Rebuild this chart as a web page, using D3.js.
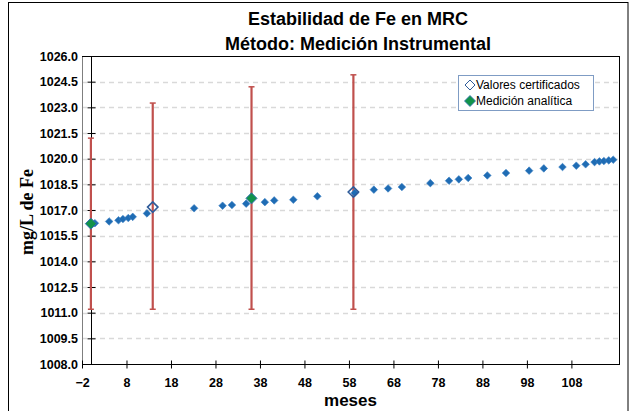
<!DOCTYPE html>
<html>
<head>
<meta charset="utf-8">
<script src="https://cdn.jsdelivr.net/npm/d3@7"></script>
<style>
  body { margin: 0; background: #fff; }
  svg { display: block; }
</style>
</head>
<body>
<svg id="chart"></svg>
<script>
// months (x) and mg/L (y)
const serieMeses = [0.9, 4.1, 6.2, 7.2, 8.4, 9.4, 12.6, 23.2, 29.6, 31.7, 34.9, 39.1, 41.2, 45.5, 50.9, 59.3,
  63.6, 66.8, 69.9, 76.3, 80.5, 82.7, 84.8, 89.1, 93.3, 98.5, 101.8, 106, 109.1, 111.2, 113.2, 114.3, 115.3, 116.4, 117.4];
const serieValores = [1016.23, 1016.33, 1016.4, 1016.47, 1016.53, 1016.6, 1016.8, 1017.1, 1017.25, 1017.29, 1017.37,
  1017.46, 1017.56, 1017.6, 1017.8, 1018.0, 1018.19, 1018.26, 1018.34, 1018.57, 1018.71, 1018.79, 1018.87, 1019.02,
  1019.16, 1019.3, 1019.43, 1019.51, 1019.59, 1019.67, 1019.8, 1019.84, 1019.86, 1019.9, 1019.94];

const certMeses = [13.9, 59.0];
const certValores = [1017.17, 1018.05];

const medMeses = [0, 36.1];
const medValores = [1016.2, 1017.68];

const barraMeses = [0, 13.9, 36.1, 59.0];
const barraInf = [1011.2, 1011.2, 1011.2, 1011.2];
const barraSup = [1021.2, 1023.25, 1024.2, 1024.9];

const yTicks = [1008, 1009.5, 1011, 1012.5, 1014, 1015.5, 1017, 1018.5, 1020, 1021.5, 1023, 1024.5, 1026];
const xTicks = [-2, 8, 18, 28, 38, 48, 58, 68, 78, 88, 98, 108];

const titulo = ["Estabilidad de Fe en MRC", "Método: Medición Instrumental"];
const leyenda = ["Valores certificados", "Medición analítica"];

const W = 631, H = 411;
const plot = { left: 82, top: 56, right: 619, bottom: 364 };

const svg = d3.select('#chart').attr('width', W).attr('height', H);

// outer chart border
svg.append('rect')
  .attr('x', 8.5).attr('y', 2.5).attr('width', 619.5).attr('height', 420)
  .attr('fill', 'none').attr('stroke', '#000').attr('stroke-width', 1);

const x = d3.scaleLinear().domain([-2, 118.7]).range([plot.left, plot.right]);
const y = d3.scaleLinear().domain([1008, 1026]).range([plot.bottom, plot.top]);

// dashed gridlines
svg.append('g')
  .selectAll('line')
  .data(yTicks.slice(1, -1))
  .join('line')
  .attr('x1', plot.left).attr('x2', plot.right)
  .attr('y1', d => Math.round(y(d)) + 0.5).attr('y2', d => Math.round(y(d)) + 0.5)
  .attr('stroke', '#d9d9d9').attr('stroke-width', 1.3).attr('stroke-dasharray', '5,4');

// plot area border
svg.append('line')
  .attr('x1', plot.left + 0.5).attr('x2', plot.left + 0.5).attr('y1', plot.top).attr('y2', plot.bottom)
  .attr('stroke', '#7f7f7f');
svg.append('line')
  .attr('x1', plot.left).attr('x2', plot.right).attr('y1', plot.top + 0.5).attr('y2', plot.top + 0.5)
  .attr('stroke', '#000');
svg.append('line')
  .attr('x1', plot.right + 0.5).attr('x2', plot.right + 0.5).attr('y1', plot.top).attr('y2', plot.bottom)
  .attr('stroke', '#000');

// y labels on the left edge
const yLabels = svg.append('g')
  .attr('transform', `translate(${plot.left},0)`)
  .call(d3.axisLeft(y).tickValues(yTicks).tickFormat(d3.format('.1f')).tickSize(0).tickPadding(4));
yLabels.select('.domain').remove();
yLabels.selectAll('text')
  .attr('font-family', 'Liberation Sans, Arial, sans-serif')
  .attr('font-size', 12.5).attr('font-weight', 'bold').attr('fill', '#000');

// vertical axis line crossing at x = 0
const yAxisG = svg.append('g')
  .attr('transform', `translate(${Math.round(x(0)) + 0.5},0)`)
  .call(d3.axisLeft(y).tickValues(yTicks).tickFormat(''));
yAxisG.select('.domain').attr('d', `M0,${plot.top}V${plot.bottom}`).attr('stroke', '#000');
yAxisG.selectAll('.tick line').attr('x1', -4).attr('x2', 4).attr('stroke', '#000');

// x axis at bottom
const xAxisG = svg.append('g')
  .attr('transform', `translate(0,${plot.bottom + 0.5})`)
  .call(d3.axisBottom(x).tickValues(xTicks).tickSize(0).tickPadding(14));
xAxisG.select('.domain').attr('d', `M${plot.left},0H${plot.right + 1}`).attr('stroke', '#000');
xAxisG.selectAll('.tick line').attr('y1', -4).attr('y2', 4).attr('stroke', '#000');
xAxisG.selectAll('text')
  .attr('font-family', 'Liberation Sans, Arial, sans-serif')
  .attr('font-size', 12.5).attr('font-weight', 'bold').attr('fill', '#000');

// error bars
const barras = barraMeses.map((m, i) => ({ m: m, lo: barraInf[i], hi: barraSup[i] }));
const eb = svg.append('g').attr('stroke', '#c0504d').attr('stroke-width', 2.2);
eb.selectAll('.v').data(barras).join('line')
  .attr('x1', d => x(d.m)).attr('x2', d => x(d.m))
  .attr('y1', d => y(d.lo)).attr('y2', d => y(d.hi));
eb.selectAll('.lo').data(barras).join('line')
  .attr('x1', d => x(d.m) - 3).attr('x2', d => x(d.m) + 3)
  .attr('y1', d => y(d.lo)).attr('y2', d => y(d.lo)).attr('stroke-width', 1.5);
eb.selectAll('.hi').data(barras).join('line')
  .attr('x1', d => x(d.m) - 3).attr('x2', d => x(d.m) + 3)
  .attr('y1', d => y(d.hi)).attr('y2', d => y(d.hi)).attr('stroke-width', 1.5);

const diamante = r => `M0,${-r}L${r},0L0,${r}L${-r},0Z`;

// blue series
svg.append('g')
  .selectAll('path')
  .data(serieMeses.map((m, i) => [m, serieValores[i]]))
  .join('path')
  .attr('transform', d => `translate(${x(d[0])},${y(d[1])})`)
  .attr('d', diamante(3.8))
  .attr('fill', '#1f6cb4').attr('stroke', '#3a7fc2').attr('stroke-width', 0.6);

// certified values (open)
svg.append('g')
  .selectAll('path')
  .data(certMeses.map((m, i) => [m, certValores[i]]))
  .join('path')
  .attr('transform', d => `translate(${x(d[0])},${y(d[1])})`)
  .attr('d', diamante(5.2))
  .attr('fill', 'none').attr('stroke', '#2f5c9a').attr('stroke-width', 1.6);

// analytical measurement (green)
svg.append('g')
  .selectAll('path')
  .data(medMeses.map((m, i) => [m, medValores[i]]))
  .join('path')
  .attr('transform', d => `translate(${x(d[0])},${y(d[1])})`)
  .attr('d', diamante(5.5))
  .attr('fill', '#12934a').attr('stroke', '#2f6fb0').attr('stroke-width', 1);

// titles
svg.append('g')
  .selectAll('text')
  .data(titulo)
  .join('text')
  .attr('x', 358).attr('y', (d, i) => 25 + i * 25)
  .attr('text-anchor', 'middle')
  .attr('font-family', 'Liberation Sans, Arial, sans-serif')
  .attr('font-size', 18).attr('font-weight', 'bold')
  .text(d => d);

svg.append('text')
  .attr('x', (plot.left + plot.right) / 2).attr('y', 406)
  .attr('text-anchor', 'middle')
  .attr('font-family', 'Liberation Sans, Arial, sans-serif')
  .attr('font-size', 17).attr('font-weight', 'bold')
  .text('meses');

svg.append('text')
  .attr('transform', 'translate(33,212) rotate(-90)')
  .attr('text-anchor', 'middle')
  .attr('font-family', 'Liberation Serif, Times New Roman, serif')
  .attr('font-size', 18).attr('font-weight', 'bold')
  .text('mg/L de Fe');

// legend
const lg = svg.append('g').attr('transform', 'translate(458,75)');
lg.append('rect')
  .attr('x', 0.5).attr('y', 0.5).attr('width', 135).attr('height', 35)
  .attr('fill', '#fff').attr('stroke', '#7f9cc4');
lg.append('path')
  .attr('transform', 'translate(12,10)').attr('d', diamante(5))
  .attr('fill', '#fff').attr('stroke', '#2f5c9a').attr('stroke-width', 1);
lg.append('path')
  .attr('transform', 'translate(12,26)').attr('d', diamante(5.5))
  .attr('fill', '#12934a').attr('stroke', '#2f6fb0').attr('stroke-width', 0.8);
lg.selectAll('text')
  .data(leyenda)
  .join('text')
  .attr('x', 18).attr('y', (d, i) => 14 + i * 16)
  .attr('font-family', 'Liberation Sans, Arial, sans-serif')
  .attr('font-size', 12)
  .text(d => d);
</script>
</body>
</html>
